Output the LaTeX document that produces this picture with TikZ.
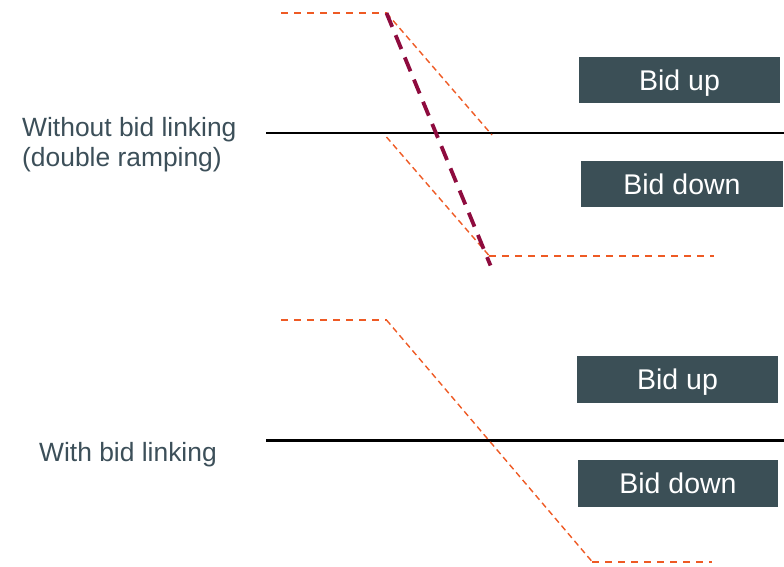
\documentclass[tikz,border=0pt]{standalone}
\usepackage{fontspec}
\setmainfont{Liberation Sans}
\definecolor{slate}{HTML}{3B4F56}
\definecolor{labelc}{HTML}{3C4F59}
\definecolor{orng}{HTML}{EE5A24}
\definecolor{maroon}{HTML}{8E0B3E}
\begin{document}
\begin{tikzpicture}[x=1pt,y=-1pt,
  bidbox/.style={fill=slate,text=white,inner sep=0pt,text height=20.4pt,text depth=0pt,font=\fontsize{28.5}{32}\selectfont},
  lbl/.style={text=labelc,anchor=base west,inner sep=0pt,font=\fontsize{26.4}{30}\selectfont},
  axisline/.style={line width=2.5pt,black},
  flatdash/.style={orng,line width=2pt,dash pattern=on 7pt off 6pt},
  slopedash/.style={orng,line width=1.4pt,dash pattern=on 6pt off 4pt},
  rampdash/.style={maroon,line width=3.8pt,dash pattern=on 15pt off 9pt}]
\useasboundingbox (0,0) rectangle (784,566);

% ---------- top panel ----------
\node[lbl] (lblA1) at (22,136) {Without bid linking};
\node[lbl] (lblA2) at (22,166) {(double ramping)};

\coordinate (axA0) at (266,133);
\coordinate (axA1) at (784,133);
\draw[axisline] (axA0) -- (axA1);

\node[bidbox,minimum width=201pt,minimum height=46pt] (upA) at (679.5,80) {Bid up};
\node[bidbox,minimum width=202pt,minimum height=46pt] (downA) at (682,184) {Bid down};

\coordinate (a1) at (281,13);
\coordinate (a2) at (386.5,13);
\coordinate (a3) at (492,135);
\coordinate (a4) at (386.5,137);
\coordinate (a5) at (489,255.5);
\coordinate (a6) at (714,255.5);
\coordinate (m1) at (386.5,13);
\coordinate (m2) at (490.5,265.5);

\draw[flatdash] (a1) -- (a2);
\draw[slopedash] (a2) -- (a3);
\draw[slopedash] (a4) -- (a5);
\draw[flatdash] (a5) -- (a6);
\draw[rampdash] (m1) -- (m2);

% ---------- bottom panel ----------
\node[lbl] (lblB) at (39,461) {With bid linking};

\coordinate (axB0) at (266,440.5);
\coordinate (axB1) at (784,440.5);
\draw[axisline] (axB0) -- (axB1);

\node[bidbox,minimum width=201pt,minimum height=47pt] (upB) at (677.5,379.5) {Bid up};
\node[bidbox,minimum width=200pt,minimum height=47pt] (downB) at (678,483.5) {Bid down};

\coordinate (b1) at (281,320);
\coordinate (b2) at (386.5,320);
\coordinate (b3) at (592,561.5);
\coordinate (b4) at (712,561.5);

\draw[flatdash] (b1) -- (b2);
\draw[slopedash] (b2) -- (b3);
\draw[flatdash] (b3) -- (b4);
\end{tikzpicture}
\end{document}
